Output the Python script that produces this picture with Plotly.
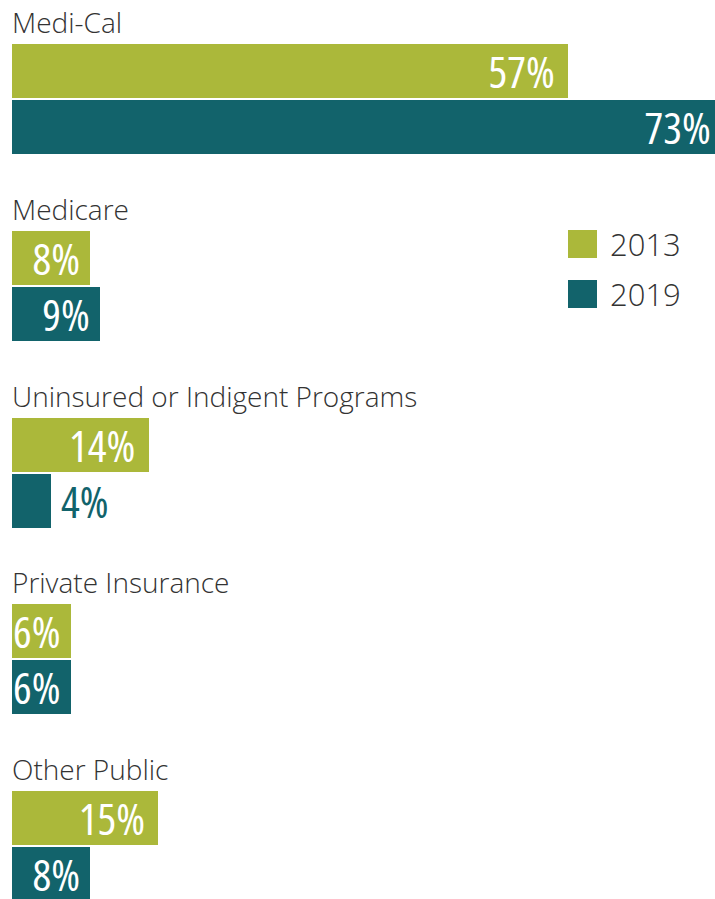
import plotly.graph_objects as go

categories = ["Medi-Cal", "Medicare", "Uninsured or Indigent Programs", "Private Insurance", "Other Public"]
years = ["2013", "2019"]
values_2013 = [57, 8, 14, 6, 15]
values_2019 = [73, 9, 4, 6, 8]
colors = {"2013": "#abb83a", "2019": "#12636b"}

# layout in pixel units (y axis runs 0..899 top to bottom)
GROUP_TOP = 44
PITCH = 186.75
BAR_H = 54
GAP = 2
PX_PER_PCT = 9.75
LEFT = 12
X_MAX = max(values_2013 + values_2019)
FIG_W = LEFT + round(X_MAX * PX_PER_PCT)   # a bit wider than the window, the longest bar runs off the edge

def bar_center(i, k):
    return GROUP_TOP + PITCH * i + k * (BAR_H + GAP) + BAR_H / 2

def px(x):
    return (x - LEFT) / (FIG_W - LEFT)

fig = go.Figure()
for k, (yr, vals) in enumerate(zip(years, [values_2013, values_2019])):
    # small bars can't hold the label, put it outside
    pos = ["inside" if v * PX_PER_PCT > 50 else "outside" for v in vals]
    tcol = ["white" if p == "inside" else colors[yr] for p in pos]
    fig.add_trace(go.Bar(
        x=vals, y=[bar_center(i, k) for i in range(len(categories))],
        orientation="h", width=BAR_H, name=yr,
        marker=dict(color=colors[yr], line=dict(width=0)),
        text=[f"{v}%" for v in vals], textposition=pos, insidetextanchor="end",
        textfont=dict(family="Open Sans", size=44, color=tcol),
        cliponaxis=False, showlegend=False, hoverinfo="skip",
    ))

for i, cat in enumerate(categories):
    fig.add_annotation(x=0, y=GROUP_TOP + PITCH * i - 22, text=cat, xref="x", yref="y",
                       xanchor="left", yanchor="middle", showarrow=False, xshift=-2,
                       font=dict(family="Open Sans", size=28, color="#333333", weight=300))

# custom legend
for k, yr in enumerate(years):
    yc = 244 + k * 50
    fig.add_shape(type="rect", xref="paper", yref="y", x0=px(568), x1=px(597),
                  y0=yc - 14, y1=yc + 14, fillcolor=colors[yr], line=dict(width=0))
    fig.add_annotation(xref="paper", yref="y", x=px(608), y=yc, text=yr,
                       xanchor="left", yanchor="middle", showarrow=False,
                       font=dict(family="Open Sans", size=31, color="#333333", weight=300))

fig.update_layout(
    width=FIG_W, height=899,
    margin=dict(l=LEFT, r=0, t=0, b=0),
    paper_bgcolor="white", plot_bgcolor="white",
    bargap=0,
    uniformtext=dict(minsize=44, mode="show"),
    xaxis=dict(range=[0, X_MAX], visible=False, fixedrange=True),
    yaxis=dict(range=[899, 0], visible=False, fixedrange=True),
)

# condensed value labels: css stretch, then redraw so plotly measures them condensed
js = """
document.body.style.margin = '0';
document.body.style.overflow = 'hidden';
document.documentElement.style.overflow = 'hidden';
var st = document.createElement('style');
st.textContent = '.bartext { font-stretch: 75% !important; }';
document.head.appendChild(st);
var gd = document.getElementById('{plot_id}');
Plotly.newPlot(gd, gd.data, gd.layout, {displayModeBar: false, staticPlot: true});
"""
fig.write_html("out.html", post_script=js, config={"displayModeBar": False})
